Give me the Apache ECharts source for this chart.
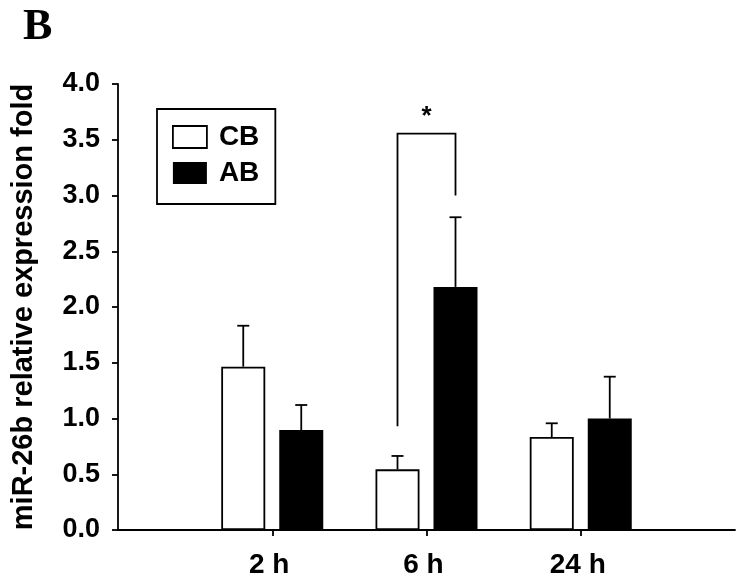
<!DOCTYPE html>
<html>
<head>
<meta charset="utf-8">
<script src="https://cdn.jsdelivr.net/npm/echarts@6/dist/echarts.min.js"></script>
<style>
html,body{margin:0;padding:0;background:#fff;}
#chart{width:744px;height:582px;}
</style>
</head>
<body>
<div id="chart"></div>
<script>
// ---- data ----
const categories = ['2 h', '6 h', '24 h'];
const cbMean = [1.465, 0.544, 0.834];
const cbErrTop = [1.832, 0.664, 0.957];
const abMean = [0.897, 2.18, 1.0];
const abErrTop = [1.121, 2.805, 1.375];
const seriesNames = ['CB', 'AB'];
const yAxisName = 'miR-26b relative expression fold';
const panelLabel = 'B';
// significance bracket: category, left foot, top, right foot, label
const bracketCategory = '6 h';
const bracketValues = [0.93, 3.555, 3.0];
const bracketLabel = '*';

// ---- layout / style ----
const FONT = '"Liberation Sans", Arial, sans-serif';
const BAR_W = 44, BAR_GAP = 14;
const OFFSET = (BAR_W + BAR_GAP) / 2;
const LW = 1.8;

const xCats = [''].concat(categories, ['']);
const pad = arr => [null].concat(arr, [null]);

function errorBarSeries(name, mean, errTop, sign) {
  return {
    type: 'custom',
    name: name + ' err',
    z: 5,
    encode: { x: 0, y: [1, 2] },
    data: categories.map((c, i) => [i + 1, mean[i], errTop[i]]),
    renderItem: function (params, api) {
      const b = api.coord([api.value(0), api.value(1)]);
      const t = api.coord([api.value(0), api.value(2)]);
      const x = b[0] + sign * OFFSET;
      const st = { stroke: '#000', lineWidth: LW };
      return {
        type: 'group',
        children: [
          { type: 'line', shape: { x1: x, y1: b[1], x2: x, y2: t[1] }, style: st },
          { type: 'line', shape: { x1: x - 6, y1: t[1], x2: x + 6, y2: t[1] }, style: st }
        ]
      };
    }
  };
}

const bracketIdx = categories.indexOf(bracketCategory) + 1;

const option = {
  animation: false,
  backgroundColor: '#fff',
  title: {
    text: panelLabel,
    left: 18, top: 1,
    textStyle: { fontFamily: '"Liberation Serif", "Times New Roman", serif', fontWeight: 'bold', fontSize: 44, color: '#000' }
  },
  grid: { left: 118, right: 9, top: 84, bottom: 52 },
  legend: {
    left: 157, top: 109,
    orient: 'vertical',
    padding: [14, 16, 17, 15],
    itemWidth: 34, itemHeight: 22, itemGap: 8,
    icon: 'rect',
    borderColor: '#000', borderWidth: LW,
    textStyle: { fontFamily: FONT, fontWeight: 'bold', fontSize: 28, color: '#000', padding: [0, 0, 0, 7] },
    data: [
      { name: seriesNames[0], itemStyle: { color: '#fff', borderColor: '#000', borderWidth: LW } },
      { name: seriesNames[1], itemStyle: { color: '#000', borderColor: '#000', borderWidth: 0 } }
    ]
  },
  xAxis: {
    type: 'category',
    data: xCats,
    boundaryGap: false,
    axisLine: { lineStyle: { color: '#000', width: LW } },
    axisTick: { show: true, length: 6, lineStyle: { color: '#000', width: LW },
      interval: function (i) { return i > 0 && i < xCats.length - 1; } },
    axisLabel: { fontFamily: FONT, fontWeight: 'bold', fontSize: 28, color: '#000', margin: 21,
      padding: [0, 6, 0, 0], interval: 0 },
    splitLine: { show: false }
  },
  yAxis: {
    type: 'value',
    min: 0, max: 4, interval: 0.5,
    name: yAxisName,
    nameLocation: 'middle',
    nameGap: 80,
    nameRotate: 90,
    nameTextStyle: { fontFamily: FONT, fontWeight: 'bold', fontSize: 29, color: '#000' },
    axisLine: { show: true, lineStyle: { color: '#000', width: LW } },
    axisTick: { show: true, length: 6, lineStyle: { color: '#000', width: LW } },
    axisLabel: { fontFamily: FONT, fontWeight: 'bold', fontSize: 27, color: '#000', margin: 18,
      formatter: v => v.toFixed(1) },
    splitLine: { show: false }
  },
  series: [
    {
      type: 'bar', name: seriesNames[0], data: pad(cbMean),
      barWidth: BAR_W, barGap: (BAR_GAP / BAR_W * 100) + '%',
      itemStyle: { color: '#fff', borderColor: '#000', borderWidth: LW }
    },
    {
      type: 'bar', name: seriesNames[1], data: pad(abMean),
      barWidth: BAR_W, barGap: (BAR_GAP / BAR_W * 100) + '%',
      itemStyle: { color: '#000', borderColor: '#000', borderWidth: 0 }
    },
    errorBarSeries(seriesNames[0], cbMean, cbErrTop, -1),
    errorBarSeries(seriesNames[1], abMean, abErrTop, 1),
    {
      type: 'custom',
      name: 'bracket',
      z: 6,
      encode: { x: 0, y: [1, 2, 3] },
      data: [[bracketIdx].concat(bracketValues)],
      renderItem: function (params, api) {
        const l = api.coord([api.value(0), api.value(1)]);
        const t = api.coord([api.value(0), api.value(2)]);
        const r = api.coord([api.value(0), api.value(3)]);
        const xl = l[0] - OFFSET, xr = l[0] + OFFSET;
        return {
          type: 'group',
          children: [
            { type: 'polyline', shape: { points: [[xl, l[1]], [xl, t[1]], [xr, t[1]], [xr, r[1]]] },
              style: { stroke: '#000', lineWidth: LW, fill: null } },
            { type: 'text', x: l[0], y: t[1] - 4,
              style: { text: bracketLabel, fontFamily: FONT, fontWeight: 'bold', fontSize: 26,
                fill: '#000', align: 'center', verticalAlign: 'bottom' } }
          ]
        };
      }
    }
  ]
};

const chart = echarts.init(document.getElementById('chart'), null, { renderer: 'canvas' });
chart.setOption(option);
</script>
</body>
</html>
